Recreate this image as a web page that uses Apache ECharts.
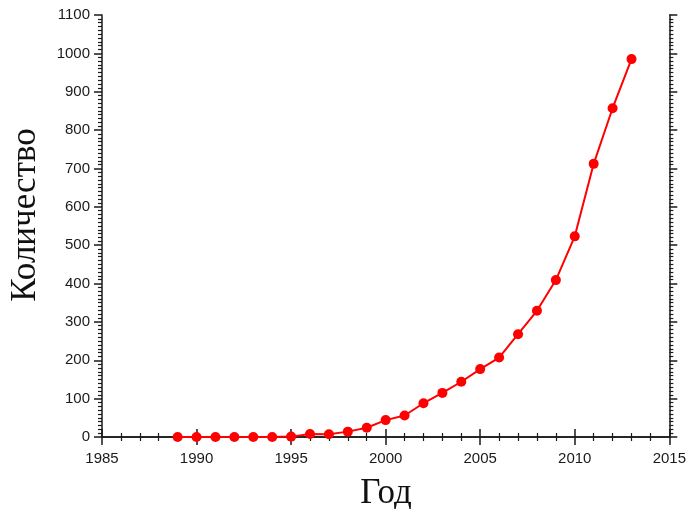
<!DOCTYPE html>
<html><head><meta charset="utf-8">
<script src="https://cdn.jsdelivr.net/npm/echarts@6/dist/echarts.min.js"></script>
<style>html,body{margin:0;padding:0;background:#fff}#c{width:689px;height:509px}</style>
</head><body><div id="c"></div>
<script>
const years = [1989,1990,1991,1992,1993,1994,1995,1996,1997,1998,1999,2000,2001,2002,2003,2004,2005,2006,2007,2008,2009,2010,2011,2012,2013];
const counts = [0,0,0,0,0,0,1,8,7,14,24,44,56,88,115,144,177,207,268,329,409,523,712,857,985];
const xTitle = 'Год';
const yTitle = 'Количество';

const chart = echarts.init(document.getElementById('c'));
const axisLine = {show:true, lineStyle:{color:'#1a1a1a', width:1.5}};
const lbl = {color:'#1a1a1a', fontFamily:'Liberation Sans, Arial, sans-serif', fontSize:15, formatter: v => String(v)};
const majorTick = {show:true, length:8, lineStyle:{color:'#1a1a1a', width:1.5}};
const minorTick = n => ({show:true, splitNumber:n, length:4, lineStyle:{color:'#1a1a1a', width:1.2}});
const titleFont = 'Liberation Serif, Times New Roman, serif';
chart.setOption({
  animation:false,
  backgroundColor:'#fff',
  grid:{left:102, right:19, top:15, bottom:72},
  graphic:[
    {type:'text', x:26, y:215, rotation:Math.PI/2,
     style:{text:yTitle, font:'35px ' + titleFont, fill:'#111', align:'center', verticalAlign:'middle'}},
    {type:'text', x:386, y:494,
     style:{text:xTitle, font:'35px ' + titleFont, fill:'#111', align:'center', verticalAlign:'middle'}}
  ],
  xAxis:[{
    type:'value', min:1985, max:2015, interval:5, position:'bottom',
    axisLine:axisLine, axisTick:majorTick, minorTick:minorTick(5),
    axisLabel:Object.assign({margin:14}, lbl), splitLine:{show:false}
  },{
    type:'value', min:1985, max:2015, interval:5, position:'top',
    axisLine:axisLine, axisTick:majorTick, minorTick:minorTick(5),
    axisLabel:{show:false}, splitLine:{show:false}
  }],
  yAxis:[{
    type:'value', min:0, max:1100, interval:100, position:'left',
    axisLine:axisLine, axisTick:majorTick, minorTick:minorTick(10),
    axisLabel:Object.assign({margin:12}, lbl), splitLine:{show:false}
  },{
    type:'value', min:0, max:1100, interval:100, position:'right',
    axisLine:axisLine, axisTick:majorTick, minorTick:minorTick(10),
    axisLabel:{show:false}, splitLine:{show:false}
  }],
  series:[{
    type:'line', xAxisIndex:0, yAxisIndex:0,
    data: years.map((y,i)=>[y, counts[i]]),
    symbol:'circle', symbolSize:10,
    lineStyle:{color:'#ff0000', width:2},
    itemStyle:{color:'#ff0000'}
  }]
});
</script></body></html>
